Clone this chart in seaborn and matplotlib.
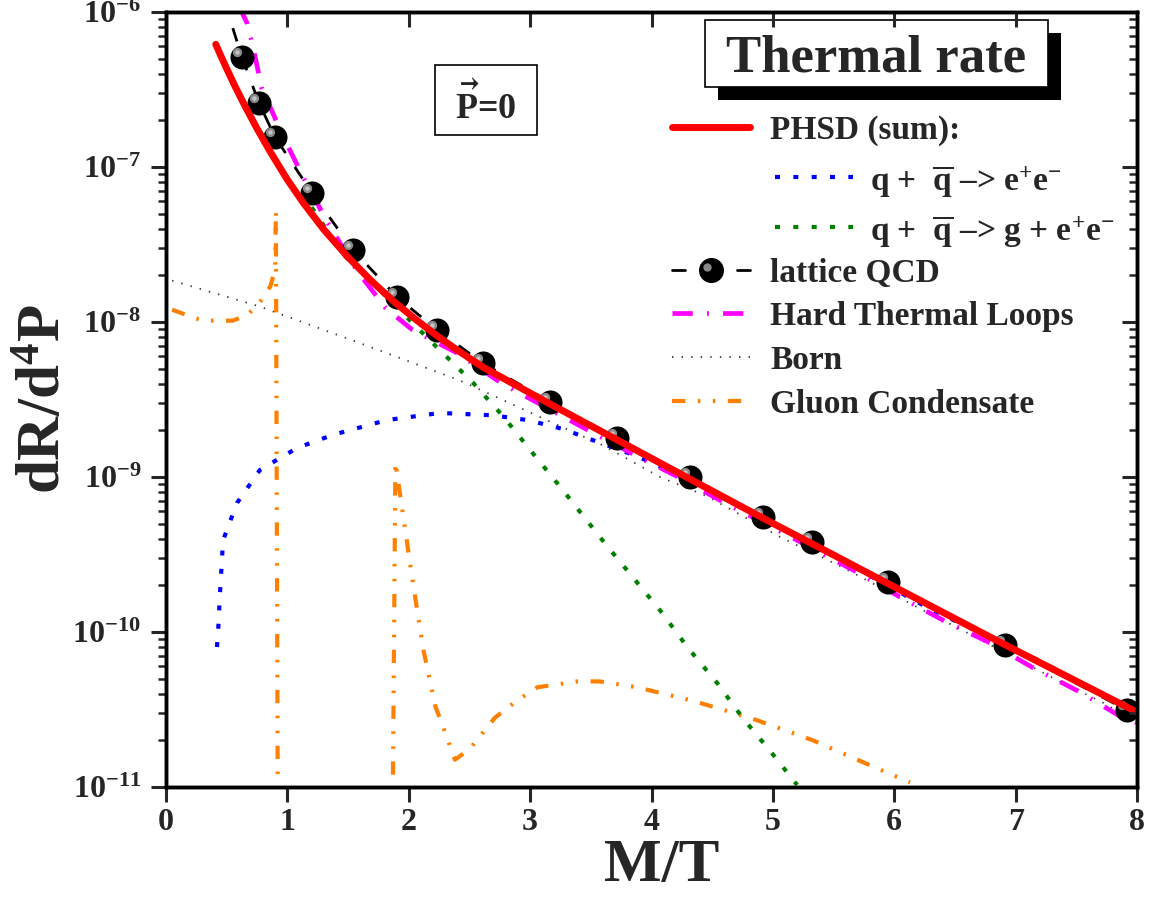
import numpy as np
import seaborn as sns
import matplotlib.pyplot as plt
from matplotlib.lines import Line2D
from matplotlib.patches import Rectangle
from matplotlib import transforms
from matplotlib.ticker import FixedLocator, LogLocator, NullFormatter

# ---- values ----
# PHSD (sum)
phsd_x = [0.41, 0.45, 0.5, 0.57, 0.65, 0.75, 0.86, 1.0, 1.13, 1.3, 1.49, 1.68, 1.87,
          2.05, 2.2, 2.4, 2.61, 2.85, 3.16, 3.72, 4.3, 4.92, 5.47, 5.95, 6.4, 6.85,
          7.4, 8.0]
phsd_y = [6.19e-7, 5.25e-7, 4.31e-7, 3.30e-7, 2.48e-7, 1.77e-7, 1.25e-7, 8.28e-8,
          5.89e-8, 3.95e-8, 2.67e-8, 1.88e-8, 1.37e-8, 1.05e-8, 8.51e-9, 6.58e-9,
          5.12e-9, 4.04e-9, 2.97e-9, 1.73e-9, 9.86e-10, 5.42e-10, 3.23e-10,
          2.05e-10, 1.34e-10, 8.77e-11, 5.28e-11, 3.04e-11]

# q + qbar -> e+e-
qq_x = [0.42, 0.43, 0.445, 0.47, 0.585, 0.774, 1.08, 1.375, 1.82, 2.26, 2.69, 2.98,
        3.27, 3.56, 3.85, 4.01, 4.73, 5.5, 6.3, 7.22, 8.0]
qq_y = [8.0e-11, 1.03e-10, 1.79e-10, 3.9e-10, 6.8e-10, 1.11e-9, 1.54e-9, 1.87e-9,
        2.33e-9, 2.59e-9, 2.5e-9, 2.33e-9, 2.04e-9, 1.68e-9, 1.39e-9, 1.23e-9,
        6.6e-10, 3.1e-10, 1.4e-10, 6.4e-11, 3.0e-11]

# q + qbar -> g + e+e-
qqg_x = [1.2, 1.376, 1.656, 1.95, 2.23, 2.53, 2.78, 3.02, 3.25, 3.62, 4.08, 4.30,
         4.54, 4.75, 4.99, 5.20]
qqg_y = [5.5e-8, 3.4e-8, 1.95e-8, 1.14e-8, 6.9e-9, 4.05e-9, 2.45e-9, 1.43e-9, 8.6e-10,
         3.7e-10, 1.35e-10, 7.9e-11, 4.7e-11, 2.8e-11, 1.66e-11, 1.03e-11]

# lattice QCD (first point lies above the frame)
lat_x = [0.45, 0.626, 0.766, 0.898, 1.203, 1.540, 1.903, 2.232, 2.611, 3.163, 3.715,
         4.316, 4.918, 5.321, 5.947, 6.91, 7.915]
lat_y = [1.4e-6, 5.1e-7, 2.59e-7, 1.56e-7, 6.8e-8, 2.92e-8, 1.45e-8, 8.9e-9, 5.43e-9,
         3.05e-9, 1.79e-9, 1.0e-9, 5.52e-10, 3.81e-10, 2.1e-10, 8.2e-11, 3.14e-11]

# Hard Thermal Loops
htl_x = [0.6, 0.667, 0.71, 0.79, 0.98, 1.13, 1.33, 1.57, 1.81, 2.03, 2.40, 2.77, 3.48,
         3.86, 4.22, 4.59, 5.1, 5.69, 6.06, 6.43, 6.79, 7.14, 7.53, 7.88, 8.0]
htl_y = [1.1e-6, 8.5e-7, 6.3e-7, 3.2e-7, 1.49e-7, 8.6e-8, 4.4e-8, 2.16e-8, 1.23e-8,
         8.9e-9, 6.3e-9, 4.0e-9, 2.0e-9, 1.39e-9, 1.0e-9, 6.9e-10, 4.3e-10, 2.44e-10,
         1.66e-10, 1.16e-10, 8.5e-11, 5.9e-11, 4.1e-11, 2.8e-11, 2.6e-11]

# Born
born_x = [0.05, 0.77, 1.6, 2.42, 2.83, 3.1, 3.6, 4.07, 4.46, 5.06, 5.58, 6.23, 6.6,
          7.34, 7.72, 8.0]
born_y = [1.85e-8, 1.26e-8, 7.3e-9, 4.2e-9, 3.0e-9, 2.4e-9, 1.6e-9, 1.0e-9, 7.5e-10,
          4.1e-10, 2.6e-10, 1.39e-10, 9.9e-11, 4.9e-11, 3.5e-11, 2.6e-11]

# Gluon condensate, two branches
gc1_x = [0.05, 0.30, 0.55, 0.67, 0.77, 0.86, 0.90, 0.905, 0.92]
gc1_y = [1.2e-8, 1.02e-8, 1.02e-8, 1.11e-8, 1.33e-8, 1.7e-8, 2.2e-8, 5.2e-8, 1.2e-11]
gc2_x = [1.87, 1.89, 1.97, 2.04, 2.12, 2.22, 2.30, 2.38, 2.5, 2.71, 2.89, 3.06, 3.39,
         3.57, 3.88, 4.34, 4.81, 5.33, 5.82, 6.13]
gc2_y = [1.2e-11, 1.25e-9, 4.6e-10, 1.95e-10, 7.7e-11, 3.3e-11, 2.25e-11, 1.5e-11,
         1.75e-11, 2.8e-11, 3.6e-11, 4.4e-11, 4.8e-11, 4.8e-11, 4.4e-11, 3.6e-11,
         2.8e-11, 2.0e-11, 1.36e-11, 1.07e-11]

xticks = [0, 1, 2, 3, 4, 5, 6, 7, 8]
yticks = [1e-11, 1e-10, 1e-9, 1e-8, 1e-7, 1e-6]
ytick_labels = [r'$10^{-11}$', r'$10^{-10}$', r'$10^{-9}$', r'$10^{-8}$',
                r'$10^{-7}$', r'$10^{-6}$']

# ---- style ----
sns.set_style('ticks')
plt.rcParams['font.family'] = ['Liberation Serif', 'DejaVu Serif']
plt.rcParams['font.weight'] = 'bold'
plt.rcParams['mathtext.fontset'] = 'custom'
plt.rcParams['mathtext.rm'] = 'Liberation Serif:bold'
plt.rcParams['mathtext.it'] = 'Liberation Serif:bold'
plt.rcParams['mathtext.bf'] = 'Liberation Serif:bold'
plt.rcParams['mathtext.default'] = 'regular'
plt.rcParams['axes.linewidth'] = 2.4
plt.rcParams['axes.edgecolor'] = 'black'

RED = '#ff0000'
BLUE = '#0000ff'
GREEN = '#008000'
MAGENTA = '#ff00ff'
ORANGE = '#ff8000'
BORN = '#3c3c3c'

ls_dot = (0, (1.2, 3.2))
ls_lat = (0, (5, 6))
ls_htl = (0, (4.3, 3.0, 0.4, 3.0))
ls_born = (0, (0.8, 4.5))
ls_gc = (0, (3.2, 3.0, 0.6, 3.0, 0.6, 3.0))

fig = plt.figure(figsize=(11.55, 8.97), dpi=100)
ax = fig.add_axes([166 / 1155, 110 / 897, 971 / 1155, 775 / 897])
ax.set_yscale('log')


def curve(x, y, **kw):
    sns.lineplot(x=x, y=y, ax=ax, estimator=None, sort=False, **kw)


curve(born_x, born_y, color=BORN, lw=1.3, linestyle=ls_born, zorder=2)
curve(gc1_x, gc1_y, color=ORANGE, lw=3, linestyle=ls_gc, zorder=2)
curve(gc2_x, gc2_y, color=ORANGE, lw=3, linestyle=ls_gc, zorder=2)
curve(qq_x, qq_y, color=BLUE, lw=3, linestyle=ls_dot, zorder=3)
curve(qqg_x, qqg_y, color=GREEN, lw=3, linestyle=ls_dot, zorder=3)
curve(htl_x, htl_y, color=MAGENTA, lw=3.4, linestyle=ls_htl, zorder=3)
curve(lat_x, lat_y, color='black', lw=2, linestyle=ls_lat, zorder=4)

sns.scatterplot(x=lat_x, y=lat_y, ax=ax, s=300, color='black', linewidth=0, zorder=5)
hl = transforms.offset_copy(ax.transData, fig=fig, x=-3.5, y=3.5, units='points')
sns.scatterplot(x=lat_x, y=lat_y, ax=ax, s=45, color='#8a8a8a', linewidth=0,
                transform=hl, zorder=6)
sns.scatterplot(x=lat_x, y=lat_y, ax=ax, s=10, color='#c4c4c4', linewidth=0,
                transform=hl, zorder=6)

curve(phsd_x, phsd_y, color=RED, lw=5, zorder=7)

# ---- axes ----
ax.set_xlim(0, 8)
ax.set_ylim(1e-11, 1e-6)
ax.set_xticks(xticks)
ax.set_xticklabels([str(t) for t in xticks])
ax.yaxis.set_major_locator(FixedLocator(yticks))
ax.set_yticklabels(ytick_labels)
ax.yaxis.set_minor_locator(LogLocator(base=10, subs=np.arange(2, 10)))
ax.yaxis.set_minor_formatter(NullFormatter())
ax.tick_params(axis='x', which='major', direction='out', length=11, width=2.2,
               labelsize=23, pad=4)
ax.tick_params(axis='y', which='major', direction='out', length=11, width=2.2,
               labelsize=23, pad=7)
ax.tick_params(axis='y', which='minor', direction='out', length=5.5, width=1.8)
for side in ['top', 'right', 'left', 'bottom']:
    ax.spines[side].set_visible(True)
    ax.spines[side].set_linewidth(2.4)

axt = ax.twiny()
axt.set_xlim(0, 8)
axt.set_xticks(xticks)
axt.tick_params(axis='x', direction='in', length=11, width=2.2, labeltop=False)

axr = ax.twinx()
axr.set_yscale('log')
axr.set_ylim(1e-11, 1e-6)
axr.yaxis.set_major_locator(FixedLocator(yticks))
axr.yaxis.set_minor_locator(LogLocator(base=10, subs=np.arange(2, 10)))
axr.tick_params(axis='y', which='major', direction='in', length=11, width=2.2,
                labelright=False)
axr.tick_params(axis='y', which='minor', direction='in', length=5.5, width=1.8,
                labelright=False)

ax.set_xlabel('M/T', fontsize=44, fontweight='bold')
ax.xaxis.set_label_coords(0.511, -0.066)
ax.set_ylabel(r'dR/d$^{4}$P', fontsize=44, fontweight='bold')
ax.yaxis.set_label_coords(-0.096, 0.5)

# ---- title box with shadow ----
ax.add_patch(Rectangle((0.5685, 0.8865), 0.3532, 0.0865, transform=ax.transAxes,
                       facecolor='black', edgecolor='none', zorder=8, clip_on=False))
ax.add_patch(Rectangle((0.5551, 0.9032), 0.3532, 0.0865, transform=ax.transAxes,
                       facecolor='white', edgecolor='black', lw=1.2, zorder=9,
                       clip_on=False))
ax.text(0.7317, 0.9471, 'Thermal rate', transform=ax.transAxes, fontsize=38,
        ha='center', va='center_baseline', zorder=10)

# ---- P = 0 box ----
ax.add_patch(Rectangle((0.277, 0.8413), 0.105, 0.0903, transform=ax.transAxes,
                       facecolor='white', edgecolor='black', lw=1.2, zorder=9))
ax.text(0.3296, 0.880, r'$\vec{\mathrm{P}}$=0', transform=ax.transAxes, fontsize=26,
        ha='center', va='center', zorder=10)

# ---- legend (drawn by hand to keep the indented sub-entries) ----
rows = [0.8516, 0.7871, 0.7226, 0.6671, 0.6116, 0.5548, 0.4981]
kx0, kx1, tx = 0.521, 0.601, 0.622
sx0, sx1, stx = 0.627, 0.7075, 0.725


def key(x0, x1, y, **kw):
    ax.add_line(Line2D([x0, x1], [y, y], transform=ax.transAxes, clip_on=False,
                       zorder=9, **kw))


def label(x, y, s):
    ax.text(x, y, s, transform=ax.transAxes, fontsize=24, ha='left',
            va='center_baseline', zorder=10)


key(kx0, kx1, rows[0], color=RED, lw=5)
label(tx, rows[0], 'PHSD (sum):')
key(sx0, sx1, rows[1], color=BLUE, lw=3, linestyle=ls_dot)
label(stx, rows[1], r'q +  $\overline{q}$ –> e$^{+}$e$^{-}$')
key(sx0, sx1, rows[2], color=GREEN, lw=3, linestyle=ls_dot)
label(stx, rows[2], r'q +  $\overline{q}$ –> g + e$^{+}$e$^{-}$')
key(kx0, kx0 + 0.013, rows[3], color='black', lw=2)
key(kx1 - 0.013, kx1, rows[3], color='black', lw=2)
ax.add_line(Line2D([0.561], [rows[3]], transform=ax.transAxes, marker='o', ms=17,
                   color='black', lw=0, clip_on=False, zorder=9))
ax.add_line(Line2D([0.561 - 0.0035], [rows[3] + 0.0045], transform=ax.transAxes,
                   marker='o', ms=5, color='#8a8a8a', lw=0, clip_on=False, zorder=9))
label(tx, rows[3], 'lattice QCD')
key(kx0, kx1, rows[4], color=MAGENTA, lw=3.4, linestyle=ls_htl)
label(tx, rows[4], 'Hard Thermal Loops')
key(kx0, kx1, rows[5], color=BORN, lw=1.3, linestyle=ls_born)
label(tx, rows[5], 'Born')
key(kx0, kx1, rows[6], color=ORANGE, lw=3, linestyle=ls_gc)
label(tx, rows[6], 'Gluon Condensate')

fig.savefig('out.png', dpi=100)
